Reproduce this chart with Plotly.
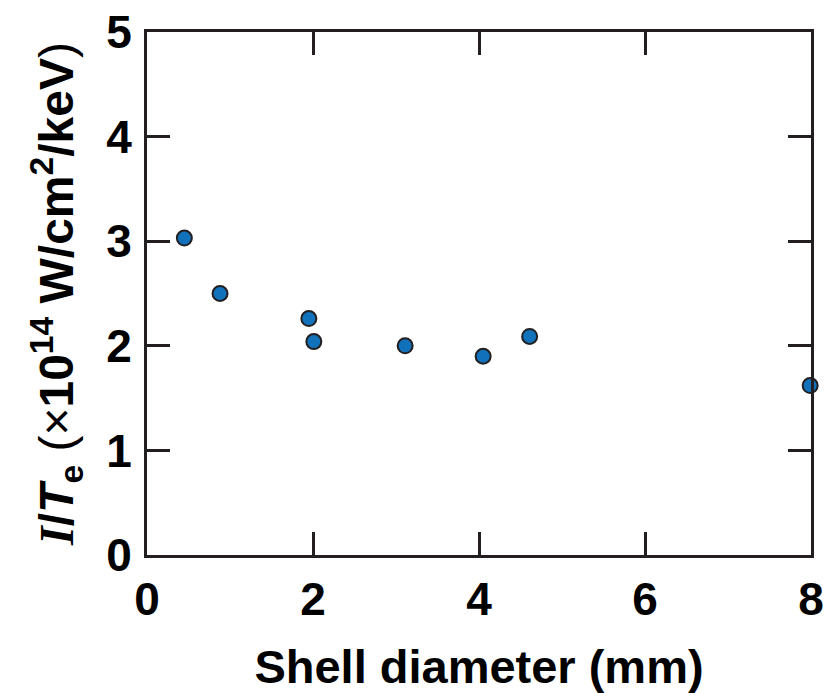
import plotly.graph_objects as go

shell_diameter_mm = [0.45, 0.88, 1.95, 2.01, 3.11, 4.05, 4.61, 7.99]
intensity_over_te = [3.03, 2.50, 2.26, 2.04, 2.00, 1.90, 2.09, 1.62]

x_ticks = [0, 2, 4, 6, 8]
y_ticks = [0, 1, 2, 3, 4, 5]

FONT = "Liberation Sans, Arial, sans-serif"
DARK = "#231f20"

fig = go.Figure(
    go.Scatter(
        x=shell_diameter_mm,
        y=intensity_over_te,
        mode="markers",
        marker=dict(size=15, color="#1172bb", line=dict(color=DARK, width=2)),
        cliponaxis=False,
        showlegend=False,
    )
)

axis_common = dict(
    showgrid=False,
    zeroline=False,
    showline=True,
    linecolor=DARK,
    linewidth=3,
    mirror="ticks",
    ticks="inside",
    ticklen=23,
    tickwidth=2.5,
    tickcolor=DARK,
    automargin=False,
    tickfont=dict(family=FONT, size=46, color="black", weight="bold"),
)

fig.update_xaxes(
    range=[0, 8],
    tickvals=x_ticks,
    ticktext=[str(v) for v in x_ticks],
    ticklabelstandoff=2,
    title=dict(
        text="<b>Shell diameter (mm)</b>",
        font=dict(family=FONT, size=47, color="black"),
        standoff=27,
    ),
    **axis_common,
)

y_title = (
    "<b><span style='font-family:Liberation Serif'><i>I</i></span>/<i>T</i>"
    "<sub>e</sub></b> (×<b>10<sup>14</sup> W/cm<sup>2</sup>/keV</b>)"
)
fig.update_yaxes(
    range=[0, 5],
    tickvals=y_ticks,
    ticktext=[str(v) for v in y_ticks],
    ticklabelstandoff=3,
    title=dict(
        text=y_title,
        font=dict(family=FONT, size=48, color="black"),
        standoff=18,
    ),
    **axis_common,
)

fig.update_layout(
    width=837,
    height=693,
    margin=dict(l=147, r=26, t=32, b=138),
    paper_bgcolor="white",
    plot_bgcolor="white",
)

fig.write_html("out.html")
